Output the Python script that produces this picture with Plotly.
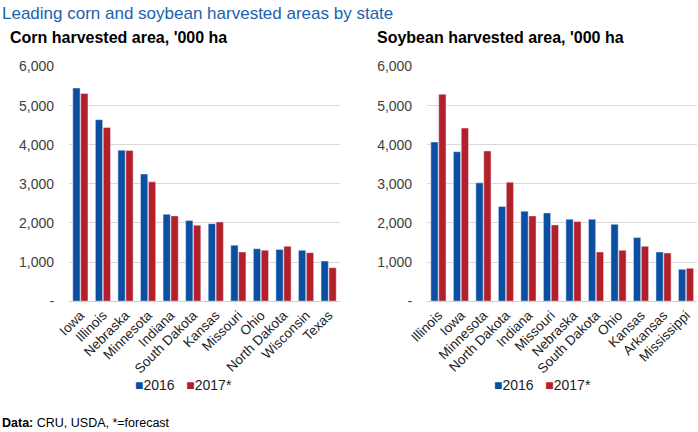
import plotly.graph_objects as go

# corn harvested area, '000 ha
corn_states = ["Iowa", "Illinois", "Nebraska", "Minnesota", "Indiana", "South Dakota",
               "Kansas", "Missouri", "Ohio", "North Dakota", "Wisconsin", "Texas"]
corn_2016 = [5450, 4640, 3860, 3250, 2220, 2060, 1980, 1430, 1340, 1320, 1300, 1025]
corn_2017 = [5310, 4440, 3850, 3050, 2180, 1940, 2025, 1256, 1300, 1400, 1240, 855]

# soybean harvested area, '000 ha
soy_states = ["Illinois", "Iowa", "Minnesota", "North Dakota", "Indiana", "Missouri",
              "Nebraska", "South Dakota", "Ohio", "Kansas", "Arkansas", "Mississippi"]
soy_2016 = [4068, 3822, 3025, 2422, 2299, 2256, 2094, 2094, 1966, 1624, 1256, 812]
soy_2017 = [5289, 4425, 3840, 3042, 2180, 1949, 2034, 1256, 1299, 1402, 1231, 838]

y_ticks = [0, 1000, 2000, 3000, 4000, 5000, 6000]
y_labels = ["-", "1,000", "2,000", "3,000", "4,000", "5,000", "6,000"]

BLUE = "#0b4ea2"
RED = "#b3202a"
FONT = "Liberation Sans, Arial, sans-serif"

fig = go.Figure()
fig.add_trace(go.Bar(x=corn_states, y=corn_2016, name="2016", marker_color=BLUE,
                     xaxis="x", yaxis="y"))
fig.add_trace(go.Bar(x=corn_states, y=corn_2017, name="2017*", marker_color=RED,
                     xaxis="x", yaxis="y"))
fig.add_trace(go.Bar(x=soy_states, y=soy_2016, name="2016", marker_color=BLUE,
                     xaxis="x2", yaxis="y2"))
fig.add_trace(go.Bar(x=soy_states, y=soy_2017, name="2017*", marker_color=RED,
                     xaxis="x2", yaxis="y2"))

xcommon = dict(tickangle=-45, tickfont=dict(size=13.5, color="#222"), showgrid=False,
               showline=True, linecolor="#d0d0d0", ticks="", fixedrange=True,
               automargin=False)
ycommon = dict(range=[0, 6000], tickvals=y_ticks, ticktext=y_labels,
               tickfont=dict(size=14, color="#404040"), gridcolor="#d9d9d9",
               zeroline=False, ticks="", fixedrange=True, domain=[0.303, 0.846],
               automargin=False, ticklabelstandoff=14)

# legends drawn as text with coloured squares, one under each chart
legend_text = (f"<span style='color:{BLUE}'>■</span>2016   "
               f"<span style='color:{RED}'>■</span>2017*")

fig.update_layout(
    width=698, height=432,
    margin=dict(l=0, r=0, t=0, b=0),
    paper_bgcolor="white", plot_bgcolor="white",
    font=dict(family=FONT),
    showlegend=False,
    barmode="group", bargap=0.3, bargroupgap=0.08,
    xaxis=dict(domain=[0.099, 0.487], anchor="y", **xcommon),
    yaxis=dict(anchor="x", **ycommon),
    xaxis2=dict(domain=[0.612, 0.999], anchor="y2", **xcommon),
    yaxis2=dict(anchor="x2", **ycommon),
    annotations=[
        dict(text="Leading corn and soybean harvested areas by state", x=0, y=0.995,
             xref="paper", yref="paper", xanchor="left", yanchor="top", showarrow=False,
             font=dict(size=17, color="#1b62b0")),
        dict(text="<b>Corn harvested area, '000 ha</b>", x=0.011, y=0.914,
             xref="paper", yref="paper", xanchor="left", yanchor="middle", showarrow=False,
             font=dict(size=16, color="black")),
        dict(text="<b>Soybean harvested area, '000 ha</b>", x=0.537, y=0.914,
             xref="paper", yref="paper", xanchor="left", yanchor="middle", showarrow=False,
             font=dict(size=16, color="black")),
        dict(text=legend_text, x=0.19, y=0.109,
             xref="paper", yref="paper", xanchor="left", yanchor="middle", showarrow=False,
             font=dict(size=14, color="#222")),
        dict(text=legend_text, x=0.705, y=0.109,
             xref="paper", yref="paper", xanchor="left", yanchor="middle", showarrow=False,
             font=dict(size=14, color="#222")),
        dict(text="<b>Data:</b> CRU, USDA, *=forecast", x=0, y=0.02,
             xref="paper", yref="paper", xanchor="left", yanchor="middle", showarrow=False,
             font=dict(size=12.5, color="black")),
    ],
)

# the page's default body margin would push the figure off the window
fig.write_html("out.html", config={"displayModeBar": False},
               post_script="document.body.style.margin='0';")
